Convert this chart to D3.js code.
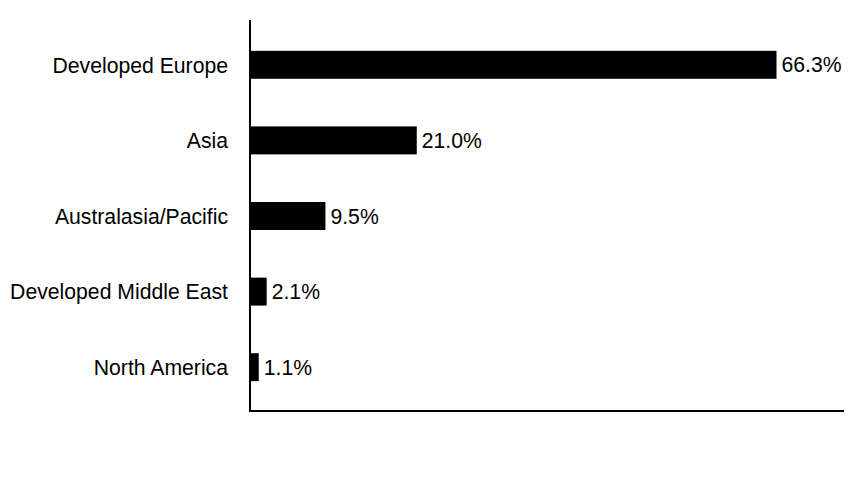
<!DOCTYPE html>
<html>
<head>
<meta charset="utf-8">
<script src="https://cdn.jsdelivr.net/npm/d3@7"></script>
<style>
  html, body { margin: 0; padding: 0; background: #fff; }
  svg { display: block; }
  text { font-family: "Liberation Sans", Arial, sans-serif; fill: #000; }
</style>
</head>
<body>
<svg id="chart" width="864" height="492"></svg>
<script>
const categories = ["Developed Europe", "Asia", "Australasia/Pacific", "Developed Middle East", "North America"];
const values = [66.3, 21.0, 9.5, 2.1, 1.1];
const valueLabels = ["66.3%", "21.0%", "9.5%", "2.1%", "1.1%"];

const data = categories.map((c, i) => ({ cat: c, val: values[i], label: valueLabels[i] }));

const svg = d3.select("#chart");
const mLeft = 250, mRight = 844, mTop = 20, mBottom = 411;
const fs = 21.2;

const x = d3.scaleLinear().domain([0, 74.8]).range([mLeft, mRight]);
const y = d3.scaleBand().domain(categories).range([27, 405]).paddingInner(0.63).paddingOuter(0.315);

svg.append("g").selectAll("rect").data(data).join("rect")
  .attr("x", x(0))
  .attr("y", d => y(d.cat))
  .attr("width", d => x(d.val) - x(0))
  .attr("height", y.bandwidth())
  .attr("fill", "#000");

svg.append("g").selectAll("text").data(data).join("text")
  .attr("x", d => x(d.val) + 5)
  .attr("y", d => y(d.cat) + y.bandwidth() / 2)
  .attr("dy", "0.36em")
  .attr("font-size", fs)
  .text(d => d.label);

const yAxis = svg.append("g").attr("transform", `translate(${mLeft},0)`)
  .call(d3.axisLeft(y).tickSize(0).tickPadding(22));
yAxis.select(".domain").remove();
yAxis.selectAll("text").attr("font-size", fs).attr("dy", "0.37em")
  .attr("font-family", "Liberation Sans, Arial, sans-serif").attr("fill", "#000");

svg.append("line").attr("x1", mLeft).attr("x2", mLeft).attr("y1", mTop).attr("y2", mBottom + 1)
  .attr("stroke", "#000").attr("stroke-width", 2);
svg.append("line").attr("x1", mLeft - 1).attr("x2", mRight).attr("y1", mBottom).attr("y2", mBottom)
  .attr("stroke", "#000").attr("stroke-width", 2);
</script>
</body>
</html>
